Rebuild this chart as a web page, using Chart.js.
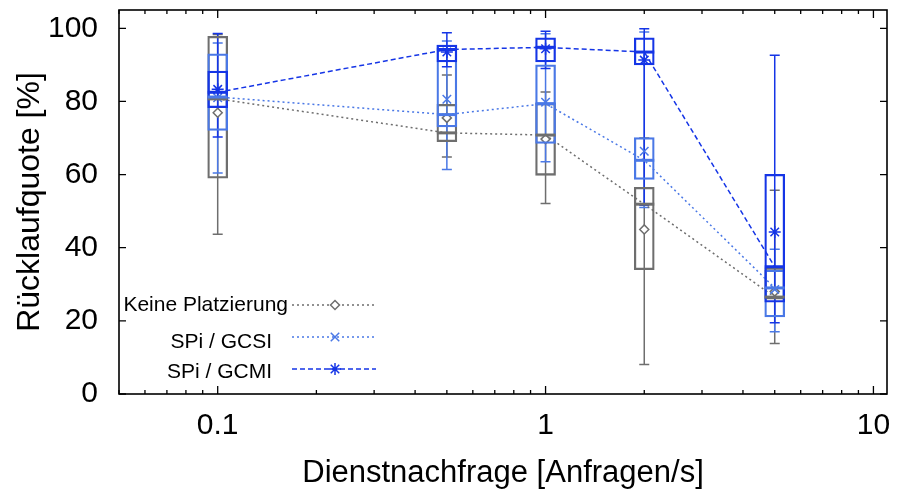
<!DOCTYPE html>
<html lang="de">
<head>
<meta charset="UTF-8">
<title>Rücklaufquote über Dienstnachfrage</title>
<script src="https://cdn.jsdelivr.net/npm/chart.js"></script>
<style>
    html, body { margin: 0; padding: 0; background: #ffffff; }
    .chart-container { width: 897px; height: 492px; }
</style>
</head>
<body>
<div class="chart-container"><canvas id="rueckChart"></canvas></div>
<script>
// demand levels (requests/s) and axis ticks
const demand = [0.1, 0.5, 1, 2, 5];
const xTicks = [0.1, 1, 10];
const yTicks = [0, 20, 40, 60, 80, 100];

// Keine Platzierung
const keineMin    = [43.7, 64.8, 52.1, 8.1, 13.8];
const keineQ1     = [59.0, 69.0, 59.8, 34.0, 25.9];
const keineMedian = [80.7, 71.4, 70.8, 51.9, 26.5];
const keineQ3     = [97.8, 79.2, 79.5, 56.5, 34.5];
const keineMax    = [98.3, 87.2, 82.6, 70.0, 55.7];
const keineMean   = [76.9, 75.5, 69.7, 45.0, 28.0];

// SPi / GCSI
const gcsiMin    = [60.4, 61.4, 63.5, 51.0, 17.0];
const gcsiQ1     = [72.1, 73.0, 68.5, 58.7, 21.1];
const gcsiMedian = [81.2, 76.4, 79.4, 63.9, 29.0];
const gcsiQ3     = [93.0, 95.4, 90.0, 70.1, 33.9];
const gcsiMax    = [96.0, 96.5, 98.5, 99.0, 39.6];
const gcsiMean   = [81.0, 80.6, 79.8, 66.4, 28.6];

// SPi / GCMI
const gcmiMin    = [70.3, 89.5, 89.0, 51.6, 19.5];
const gcmiQ1     = [78.3, 90.8, 90.8, 90.0, 25.1];
const gcmiMedian = [82.5, 94.2, 94.8, 93.5, 34.8];
const gcmiQ3     = [88.3, 95.4, 97.4, 97.4, 60.1];
const gcmiMax    = [98.6, 98.8, 99.2, 99.9, 92.6];
const gcmiMean   = [83.3, 93.5, 94.4, 91.3, 44.3];

const FONT = '"Liberation Sans", Arial, sans-serif';

const series = [
    { label: 'Keine Platzierung', color: '#6e6e6e', dash: [2, 3], marker: 'rectRot', markerFill: '#ffffff', radius: 4.5,
      min: keineMin, q1: keineQ1, med: keineMedian, q3: keineQ3, max: keineMax, mean: keineMean },
    { label: 'SPi / GCSI', color: '#4a78e6', dash: [2, 3], marker: 'crossRot', markerFill: '#4a78e6', radius: 6,
      min: gcsiMin, q1: gcsiQ1, med: gcsiMedian, q3: gcsiQ3, max: gcsiMax, mean: gcsiMean },
    { label: 'SPi / GCMI', color: '#1535e6', dash: [5, 3], marker: 'star', markerFill: '#1535e6', radius: 6,
      min: gcmiMin, q1: gcmiQ1, med: gcmiMedian, q3: gcmiQ3, max: gcmiMax, mean: gcmiMean }
];

const pts = arr => demand.map((x, i) => ({ x: x, y: arr[i] }));

// build datasets: boxes (floating bars), median lines, mean markers
const datasets = [];
series.forEach((s, k) => {
    const ord = 10 - k * 3;
    datasets.push({
        type: 'bar',
        data: demand.map((x, i) => ({ x: x, y: [s.q1[i], s.q3[i]] })),
        backgroundColor: 'rgba(0,0,0,0)',
        borderColor: s.color,
        borderWidth: 1.6,
        borderSkipped: false,
        barThickness: 20,
        grouped: false,
        order: ord + 2
    });
    datasets.push({
        type: 'line',
        data: pts(s.med),
        borderColor: s.color,
        borderWidth: 1.5,
        borderDash: s.dash,
        pointRadius: 0,
        fill: false,
        order: ord + 1
    });
    datasets.push({
        type: 'line',
        data: pts(s.mean),
        showLine: false,
        pointStyle: s.marker,
        pointRadius: s.radius,
        pointBorderColor: s.color,
        pointBackgroundColor: s.markerFill,
        pointBorderWidth: 1.5,
        order: ord
    });
});

// whiskers, caps and medians drawn from the data through the scales
const boxParts = {
    id: 'boxParts',
    beforeDatasetsDraw(chart) {
        const { ctx, scales: { x, y } } = chart;
        ctx.save();
        series.forEach(s => {
            ctx.strokeStyle = s.color;
            ctx.lineWidth = 1.5;
            demand.forEach((d, i) => {
                const px = x.getPixelForValue(d);
                ctx.beginPath();
                ctx.moveTo(px, y.getPixelForValue(s.min[i]));
                ctx.lineTo(px, y.getPixelForValue(s.max[i]));
                [s.min[i], s.max[i]].forEach(v => {
                    const py = y.getPixelForValue(v);
                    ctx.moveTo(px - 5, py);
                    ctx.lineTo(px + 5, py);
                });
                ctx.stroke();
            });
        });
        ctx.restore();
    },
    afterDatasetsDraw(chart) {
        const { ctx, scales: { x, y } } = chart;
        ctx.save();
        series.forEach(s => {
            ctx.strokeStyle = s.color;
            ctx.lineWidth = 3;
            demand.forEach((d, i) => {
                const px = x.getPixelForValue(d);
                const py = y.getPixelForValue(s.med[i]);
                ctx.beginPath();
                ctx.moveTo(px - 10, py);
                ctx.lineTo(px + 10, py);
                ctx.stroke();
            });
        });
        ctx.restore();
    }
};

// frame with inward ticks, mirrored on all sides
const frame = {
    id: 'frame',
    afterDraw(chart) {
        const { ctx, chartArea: a, scales: { x, y } } = chart;
        ctx.save();
        ctx.strokeStyle = '#000';
        ctx.lineWidth = 1.6;
        ctx.strokeRect(a.left, a.top, a.right - a.left, a.bottom - a.top);
        ctx.lineWidth = 1.3;
        ctx.beginPath();
        const minors = [];
        [0.01, 0.1, 1].forEach(dec => { for (let m = 2; m <= 9; m++) minors.push(m * dec); });
        minors.filter(v => v >= x.min && v <= x.max).forEach(v => {
            const px = x.getPixelForValue(v);
            ctx.moveTo(px, a.bottom); ctx.lineTo(px, a.bottom - 4);
            ctx.moveTo(px, a.top); ctx.lineTo(px, a.top + 4);
        });
        xTicks.forEach(v => {
            const px = x.getPixelForValue(v);
            ctx.moveTo(px, a.bottom); ctx.lineTo(px, a.bottom - 8);
            ctx.moveTo(px, a.top); ctx.lineTo(px, a.top + 8);
        });
        yTicks.forEach(v => {
            const py = y.getPixelForValue(v);
            ctx.moveTo(a.left, py); ctx.lineTo(a.left + 7, py);
            ctx.moveTo(a.right, py); ctx.lineTo(a.right - 7, py);
        });
        ctx.stroke();
        ctx.restore();
    }
};

// key in the lower left of the plot: right aligned text, sample line and marker
const keyPlugin = {
    id: 'keyPlugin',
    afterDraw(chart) {
        const { ctx } = chart;
        const rows = [
            { textRight: 288, textY: 305, lineY: 305 },
            { textRight: 272, textY: 342, lineY: 337 },
            { textRight: 272, textY: 372, lineY: 369 }
        ];
        ctx.save();
        series.forEach((s, k) => {
            const r = rows[k];
            ctx.fillStyle = '#000';
            ctx.font = '21px ' + FONT;
            ctx.textAlign = 'right';
            ctx.textBaseline = 'middle';
            ctx.fillText(s.label, r.textRight, r.textY);
            ctx.strokeStyle = s.color;
            ctx.lineWidth = 1.5;
            ctx.setLineDash(s.dash);
            ctx.beginPath();
            ctx.moveTo(292, r.lineY);
            ctx.lineTo(376, r.lineY);
            ctx.stroke();
            ctx.setLineDash([]);
            ctx.fillStyle = s.markerFill;
            ctx.lineWidth = 1.5;
            Chart.helpers.drawPoint(ctx, { pointStyle: s.marker, radius: s.radius, rotation: 0, borderWidth: 1.5 }, 335, r.lineY);
        });
        ctx.restore();
    }
};

new Chart(document.getElementById('rueckChart').getContext('2d'), {
    type: 'line',
    data: { datasets: datasets },
    options: {
        responsive: true,
        maintainAspectRatio: false,
        animation: false,
        layout: { padding: { top: 10, right: 10, left: 0, bottom: 0 } },
        plugins: { legend: { display: false }, tooltip: { enabled: false } },
        scales: {
            x: {
                type: 'logarithmic',
                min: 0.05,
                max: 11,
                offset: false,
                grid: { display: false, drawTicks: false },
                border: { display: false },
                afterBuildTicks: s => { s.ticks = xTicks.map(v => ({ value: v })); },
                afterFit: s => { s.height = 98; s.paddingLeft = 0; s.paddingRight = 0; },
                ticks: {
                    autoSkip: false, maxRotation: 0, padding: 14, color: '#000',
                    font: { family: FONT, size: 30 },
                    callback: v => String(v)
                },
                title: {
                    display: true, text: 'Dienstnachfrage [Anfragen/s]', color: '#000',
                    font: { family: FONT, size: 31 }, padding: { top: 0, bottom: 0 }
                }
            },
            y: {
                min: 0,
                max: 105,
                grid: { display: false, drawTicks: false },
                border: { display: false },
                afterBuildTicks: s => { s.ticks = yTicks.map(v => ({ value: v })); },
                afterFit: s => { s.width = 119; s.paddingTop = 0; s.paddingBottom = 0; },
                ticks: {
                    padding: 21, color: '#000',
                    font: { family: FONT, size: 30 }
                },
                title: {
                    display: true, text: 'Rücklaufquote [%]', color: '#000',
                    font: { family: FONT, size: 32 }, padding: { top: 11, bottom: 0 }
                }
            }
        }
    },
    plugins: [boxParts, frame, keyPlugin]
});
</script>
</body>
</html>
